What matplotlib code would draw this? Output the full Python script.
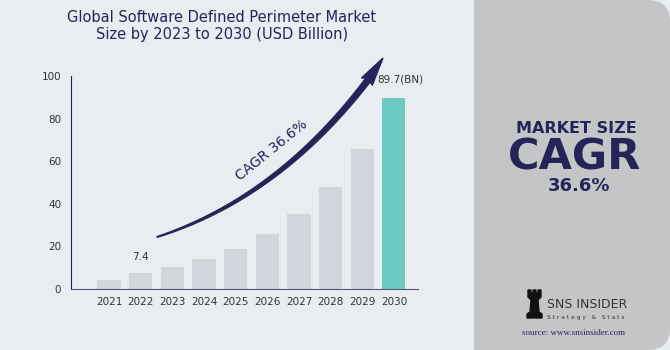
import numpy as np
import matplotlib.pyplot as plt
from matplotlib.patches import Polygon, FancyBboxPatch, Rectangle

# Data
years = ["2021", "2022", "2023", "2024", "2025", "2026", "2027", "2028", "2029", "2030"]
values = [4.1, 7.4, 10.1, 13.9, 18.9, 25.8, 35.1, 48.0, 65.6, 89.7]
labels = {1: "7.4", 9: "89.7(BN)"}
y_ticks = [0, 20, 40, 60, 80, 100]

bg = "#e9ecf1"
navy = "#262358"
bar_col = "#d1d6dc"
teal = "#6bc9c1"
panel = "#c4c5c7"

W, H = 670, 350
fig = plt.figure(figsize=(W / 100, H / 100), dpi=100)
fig.patch.set_facecolor(bg)

# background layer in pixel coordinates (y down)
back = fig.add_axes([0, 0, 1, 1], zorder=0)
back.set_xlim(0, W)
back.set_ylim(H, 0)
back.axis("off")
back.add_patch(FancyBboxPatch((474, 0), 196, 350, boxstyle="round,pad=0,rounding_size=22",
                              facecolor=panel, edgecolor="none"))
back.add_patch(Rectangle((474, 0), 40, 350, facecolor=panel, edgecolor="none"))

# Chart axes (pixel layout)
ax = fig.add_axes([71 / W, 1 - 289 / H, (418 - 71) / W, (289 - 76) / H], zorder=1)
ax.patch.set_alpha(0)
x = np.arange(len(years))
colors = [bar_col] * (len(years) - 1) + [teal]
ax.bar(x, values, width=0.73, color=colors, zorder=2)
ax.set_xlim(-1.2, 9.76)
ax.set_ylim(0, 100)
ax.set_xticks(x)
ax.set_xticklabels(years)
ax.set_yticks(y_ticks)
ax.tick_params(length=0, labelsize=7.5, colors="#333333", pad=6)
ax.tick_params(axis="y", pad=7)
for s in ["top", "right"]:
    ax.spines[s].set_visible(False)
ax.spines["left"].set_color(navy)
ax.spines["bottom"].set_color("#55557a")

ax.text(1, values[1] + 7.5, labels[1], ha="center", va="center",
        fontsize=7.5, color="#333333")
ax.text(9.2, values[9] + 8.5, labels[9], ha="center", va="center",
        fontsize=7.5, color="#333333", clip_on=False)

# overlay layer in pixel coordinates for titles, arrow and panel text
top = fig.add_axes([0, 0, 1, 1], zorder=3)
top.set_xlim(0, W)
top.set_ylim(H, 0)
top.axis("off")
top.patch.set_alpha(0)

top.text(222, 26, "Global Software Defined Perimeter Market\nSize by 2023 to 2030 (USD Billion)",
         ha="center", va="center", fontsize=10.5, color=navy, linespacing=1.2)

# Curved tapered arrow
p0, p1, p2 = np.array([157, 237]), np.array([278, 198]), np.array([368, 80])
t = np.linspace(0, 1, 80)
pts = ((1 - t) ** 2)[:, None] * p0 + (2 * (1 - t) * t)[:, None] * p1 + (t ** 2)[:, None] * p2
d = np.gradient(pts, axis=0)
n = np.stack([-d[:, 1], d[:, 0]], axis=1)
n /= np.linalg.norm(n, axis=1)[:, None]
wid = 0.3 + 2.6 * t ** 0.8
upper = pts + n * wid[:, None]
lower = pts - n * wid[:, None]
tip = np.array([383, 58])
dirv = (tip - p2) / np.linalg.norm(tip - p2)
nv = np.array([-dirv[1], dirv[0]])
base = p2 - dirv * 2
head = [base + nv * 6.5, tip, base - nv * 6.5]
poly = np.vstack([upper, [head[0]], [head[1]], [head[2]], lower[::-1]])
top.add_patch(Polygon(poly, closed=True, color=navy))
top.text(272, 150, "CAGR 36.6%", rotation=39, ha="center", va="center",
         fontsize=10, color=navy, rotation_mode="anchor")

# Panel text
top.text(576, 133, "MARKET SIZE", ha="center", va="baseline",
         fontsize=11.5, fontweight="bold", color=navy)
top.text(575, 169, "CAGR", ha="center", va="baseline",
         fontsize=31, fontweight="bold", color=navy)
top.text(579, 191, "36.6%", ha="center", va="baseline",
         fontsize=13, fontweight="bold", color=navy)

# Logo
rook = np.array([[527, 318], [527, 314], [530, 312], [531, 300], [528, 297], [528, 290],
                 [531, 290], [531, 293], [533, 293], [533, 290], [536, 290], [536, 293],
                 [538, 293], [538, 290], [541, 290], [541, 297], [538, 300], [539, 312],
                 [542, 314], [542, 318]])
top.add_patch(Polygon(rook, closed=True, color="#111111"))
top.text(547, 305, "SNS INSIDER", ha="left", va="center", fontsize=9, color="#333333")
top.text(547, 317, "S t r a t e g y   &   S t a t s", ha="left", va="center",
         fontsize=4.3, color="#333333")
top.text(573, 333, "source: www.snsinsider.com", ha="center", va="center",
         fontsize=6.5, color=navy, family="Liberation Serif")

fig.savefig("out.png", dpi=100, facecolor=bg)
